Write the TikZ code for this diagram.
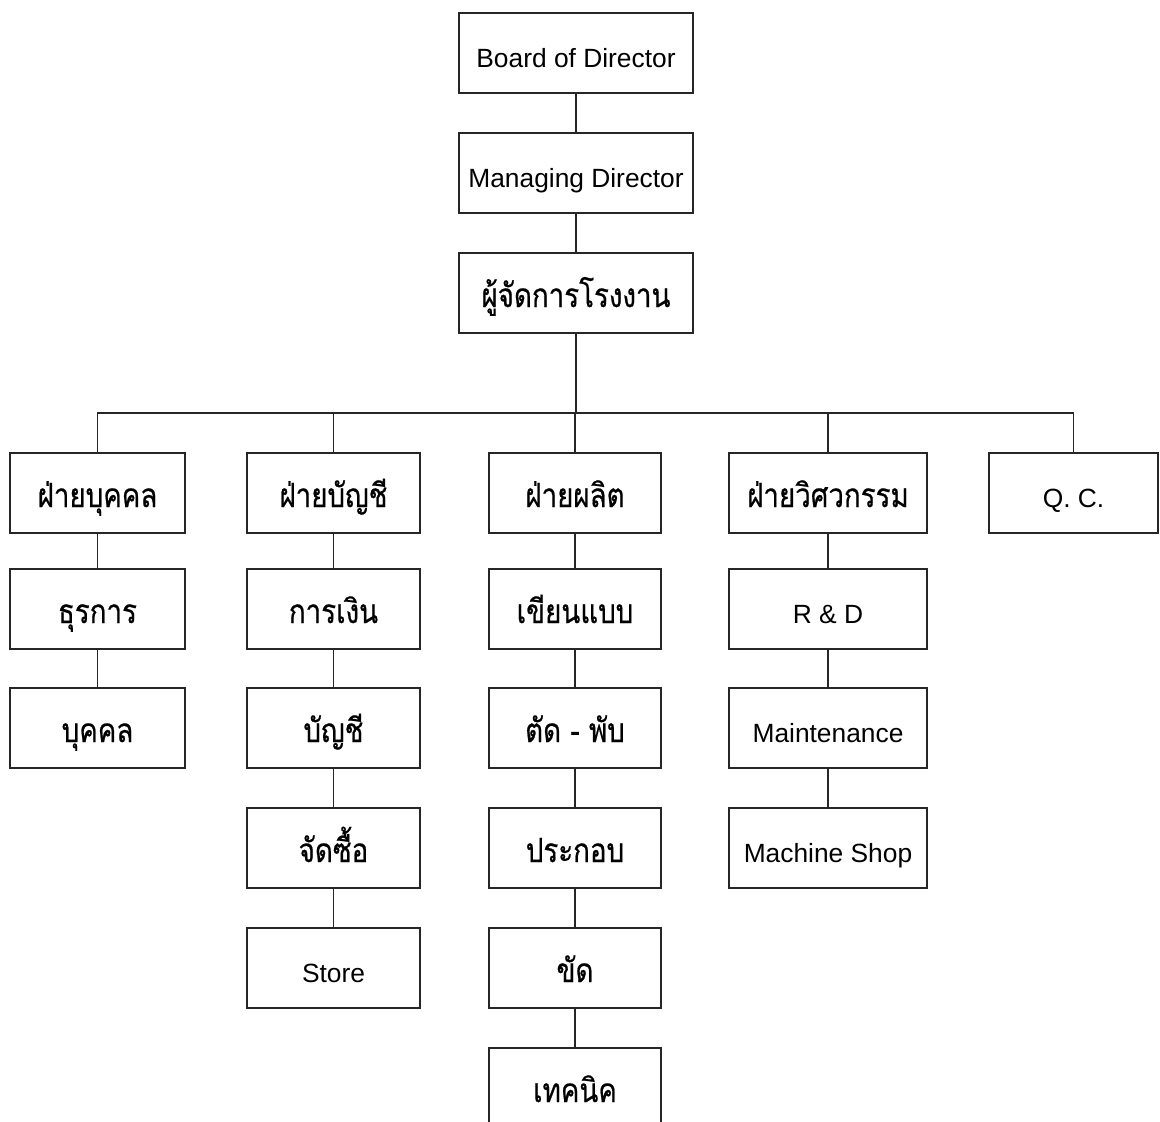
\documentclass[tikz,border=0pt]{standalone}
\usepackage{fontspec}
\setmainfont{Liberation Sans}
\newfontfamily\thai[Script=Thai,FakeStretch=0.83,FakeBold=0.6]{Loma}
\begin{document}
\begin{tikzpicture}[x=0.02cm,y=-0.02cm,line width=0.8pt,draw=black!85,
	box/.style={draw,line width=1pt,minimum height=1.6cm,inner sep=0,
	text height=16pt,text depth=0pt,font=\fontsize{15}{16}\selectfont},
	th/.style={font=\thai\fontsize{19}{20}\selectfont}]
\useasboundingbox (0,0) rectangle (1160,1122);
% top of the chart
\node[box,minimum width=4.68cm] (board) at (576,53) {Board of Director};
\node[box,minimum width=4.68cm] (mgr) at (576,173) {Managing Director};
\node[box,th,minimum width=4.68cm] (plant) at (576,293) {ผู้จัดการโรงงาน};
\coordinate (bus) at (576,413);
% departments
\node[box,th,minimum width=3.5cm] (hr) at (97.5,493) {ฝ่ายบุคคล};
\node[box,th,minimum width=3.5cm] (admin) at (97.5,609) {ธุรการ};
\node[box,th,minimum width=3.5cm] (staff) at (97.5,728) {บุคคล};
\node[box,th,minimum width=3.46cm] (acct) at (333.5,493) {ฝ่ายบัญชี};
\node[box,th,minimum width=3.46cm] (fin) at (333.5,609) {การเงิน};
\node[box,th,minimum width=3.46cm] (book) at (333.5,728) {บัญชี};
\node[box,th,minimum width=3.46cm] (buy) at (333.5,848) {จัดซื้อ};
\node[box,minimum width=3.46cm] (store) at (333.5,968) {Store};
\node[box,th,minimum width=3.44cm] (prod) at (575,493) {ฝ่ายผลิต};
\node[box,th,minimum width=3.44cm] (draft) at (575,609) {เขียนแบบ};
\node[box,th,minimum width=3.44cm] (cut) at (575,728) {ตัด - พับ};
\node[box,th,minimum width=3.44cm] (asm) at (575,848) {ประกอบ};
\node[box,th,minimum width=3.44cm] (pol) at (575,968) {ขัด};
\node[box,th,minimum width=3.44cm] (tech) at (575,1088) {เทคนิค};
\node[box,th,minimum width=3.96cm] (eng) at (828,493) {ฝ่ายวิศวกรรม};
\node[box,minimum width=3.96cm] (rd) at (828,609) {R \& D};
\node[box,minimum width=3.96cm] (mnt) at (828,728) {Maintenance};
\node[box,minimum width=3.96cm] (shop) at (828,848) {Machine Shop};
\node[box,minimum width=3.38cm] (qc) at (1073.5,493) {Q. C.};
% connectors
\draw (board) -- (mgr) (mgr) -- (plant) (plant) -- (bus);
\draw (hr.north) -- (hr.north |- bus) -- (qc.north |- bus) -- (qc.north);
\foreach \d in {acct,prod,eng}
	\draw (\d.north) -- (\d.north |- bus);
\foreach \a/\b in {hr/admin,admin/staff,acct/fin,fin/book,book/buy,buy/store,
	prod/draft,draft/cut,cut/asm,asm/pol,pol/tech,eng/rd,rd/mnt,mnt/shop}
	\draw (\a.south) -- (\b.north);
\end{tikzpicture}
\end{document}
